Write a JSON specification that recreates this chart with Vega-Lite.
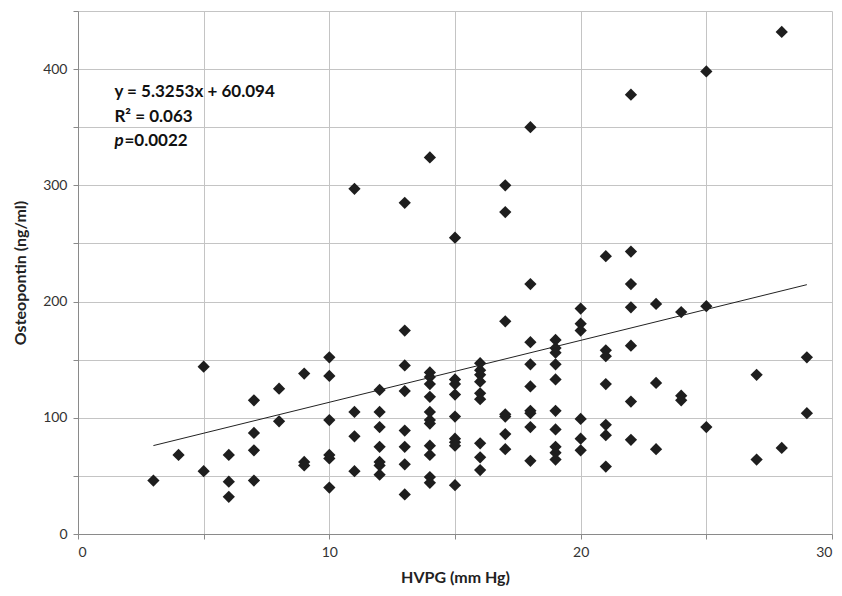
{
  "$schema": "https://vega.github.io/schema/vega-lite/v6.json",
  "autosize": {"type": "none"},
  "width": 754,
  "height": 523,
  "padding": {"left": 78, "top": 11, "right": 10, "bottom": 62},
  "background": "white",
  "config": {
    "view": {"stroke": null},
    "font": "Lato",
    "axis": {
      "gridColor": "#c4c4c4",
      "gridWidth": 1,
      "domainColor": "#8a8a8a",
      "tickColor": "#8a8a8a",
      "tickSize": 5,
      "labelFont": "Lato",
      "labelFontSize": 14,
      "labelColor": "#333333",
      "titleFont": "Lato",
      "titleFontSize": 16,
      "titleFontWeight": "bold",
      "titleColor": "#222222"
    }
  },
  "datasets": {
    "pts": [
      {"hvpg": 3, "opn": 46}, {"hvpg": 4, "opn": 68},
      {"hvpg": 5, "opn": 144}, {"hvpg": 5, "opn": 54},
      {"hvpg": 6, "opn": 68}, {"hvpg": 6, "opn": 45}, {"hvpg": 6, "opn": 32},
      {"hvpg": 7, "opn": 115}, {"hvpg": 7, "opn": 87}, {"hvpg": 7, "opn": 72}, {"hvpg": 7, "opn": 46},
      {"hvpg": 8, "opn": 125}, {"hvpg": 8, "opn": 97},
      {"hvpg": 9, "opn": 138}, {"hvpg": 9, "opn": 62}, {"hvpg": 9, "opn": 59},
      {"hvpg": 10, "opn": 152}, {"hvpg": 10, "opn": 136}, {"hvpg": 10, "opn": 98}, {"hvpg": 10, "opn": 68}, {"hvpg": 10, "opn": 65}, {"hvpg": 10, "opn": 40},
      {"hvpg": 11, "opn": 297}, {"hvpg": 11, "opn": 105}, {"hvpg": 11, "opn": 84}, {"hvpg": 11, "opn": 54},
      {"hvpg": 12, "opn": 124}, {"hvpg": 12, "opn": 105}, {"hvpg": 12, "opn": 92}, {"hvpg": 12, "opn": 75}, {"hvpg": 12, "opn": 62}, {"hvpg": 12, "opn": 59}, {"hvpg": 12, "opn": 51},
      {"hvpg": 13, "opn": 285}, {"hvpg": 13, "opn": 175}, {"hvpg": 13, "opn": 145}, {"hvpg": 13, "opn": 123}, {"hvpg": 13, "opn": 89}, {"hvpg": 13, "opn": 75}, {"hvpg": 13, "opn": 60}, {"hvpg": 13, "opn": 34},
      {"hvpg": 14, "opn": 324}, {"hvpg": 14, "opn": 139}, {"hvpg": 14, "opn": 135}, {"hvpg": 14, "opn": 129}, {"hvpg": 14, "opn": 118}, {"hvpg": 14, "opn": 105}, {"hvpg": 14, "opn": 98}, {"hvpg": 14, "opn": 95}, {"hvpg": 14, "opn": 76}, {"hvpg": 14, "opn": 68}, {"hvpg": 14, "opn": 49}, {"hvpg": 14, "opn": 44},
      {"hvpg": 15, "opn": 255}, {"hvpg": 15, "opn": 133}, {"hvpg": 15, "opn": 129}, {"hvpg": 15, "opn": 120}, {"hvpg": 15, "opn": 101}, {"hvpg": 15, "opn": 82}, {"hvpg": 15, "opn": 79}, {"hvpg": 15, "opn": 76}, {"hvpg": 15, "opn": 42},
      {"hvpg": 16, "opn": 147}, {"hvpg": 16, "opn": 141}, {"hvpg": 16, "opn": 137}, {"hvpg": 16, "opn": 131}, {"hvpg": 16, "opn": 121}, {"hvpg": 16, "opn": 116}, {"hvpg": 16, "opn": 78}, {"hvpg": 16, "opn": 66}, {"hvpg": 16, "opn": 55},
      {"hvpg": 17, "opn": 300}, {"hvpg": 17, "opn": 277}, {"hvpg": 17, "opn": 183}, {"hvpg": 17, "opn": 103}, {"hvpg": 17, "opn": 101}, {"hvpg": 17, "opn": 86}, {"hvpg": 17, "opn": 73},
      {"hvpg": 18, "opn": 350}, {"hvpg": 18, "opn": 215}, {"hvpg": 18, "opn": 165}, {"hvpg": 18, "opn": 146}, {"hvpg": 18, "opn": 127}, {"hvpg": 18, "opn": 106}, {"hvpg": 18, "opn": 104}, {"hvpg": 18, "opn": 92}, {"hvpg": 18, "opn": 63},
      {"hvpg": 19, "opn": 167}, {"hvpg": 19, "opn": 160}, {"hvpg": 19, "opn": 156}, {"hvpg": 19, "opn": 146}, {"hvpg": 19, "opn": 133}, {"hvpg": 19, "opn": 106}, {"hvpg": 19, "opn": 90}, {"hvpg": 19, "opn": 75}, {"hvpg": 19, "opn": 70}, {"hvpg": 19, "opn": 64},
      {"hvpg": 20, "opn": 194}, {"hvpg": 20, "opn": 181}, {"hvpg": 20, "opn": 175}, {"hvpg": 20, "opn": 99}, {"hvpg": 20, "opn": 82}, {"hvpg": 20, "opn": 72},
      {"hvpg": 21, "opn": 239}, {"hvpg": 21, "opn": 158}, {"hvpg": 21, "opn": 153}, {"hvpg": 21, "opn": 129}, {"hvpg": 21, "opn": 94}, {"hvpg": 21, "opn": 85}, {"hvpg": 21, "opn": 58},
      {"hvpg": 22, "opn": 378}, {"hvpg": 22, "opn": 243}, {"hvpg": 22, "opn": 215}, {"hvpg": 22, "opn": 195}, {"hvpg": 22, "opn": 162}, {"hvpg": 22, "opn": 114}, {"hvpg": 22, "opn": 81},
      {"hvpg": 23, "opn": 198}, {"hvpg": 23, "opn": 130}, {"hvpg": 23, "opn": 73},
      {"hvpg": 24, "opn": 191}, {"hvpg": 24, "opn": 119}, {"hvpg": 24, "opn": 115},
      {"hvpg": 25, "opn": 398}, {"hvpg": 25, "opn": 196}, {"hvpg": 25, "opn": 92},
      {"hvpg": 27, "opn": 137}, {"hvpg": 27, "opn": 64},
      {"hvpg": 28, "opn": 432}, {"hvpg": 28, "opn": 74},
      {"hvpg": 29, "opn": 152}, {"hvpg": 29, "opn": 104}
    ],
    "fit": [
      {"hvpg": 3, "opn": 76.07},
      {"hvpg": 29, "opn": 214.53}
    ],
    "notes": [
      {"hvpg": 1.45, "opn": 380, "txt": "y = 5.3253x + 60.094"},
      {"hvpg": 1.45, "opn": 359, "txt": "R² = 0.063"}
    ],
    "pnote": [
      {"hvpg": 1.45, "opn": 338, "p": "p", "rest": "=0.0022"}
    ]
  },
  "layer": [
    {
      "data": {"name": "pts"},
      "mark": {"type": "point", "shape": "diamond", "filled": true, "size": 150, "color": "#1e1e1e", "opacity": 1},
      "encoding": {
        "x": {
          "field": "hvpg", "type": "quantitative",
          "scale": {"domain": [0, 30], "nice": false, "zero": false},
          "axis": {
            "title": "HVPG (mm Hg)",
            "values": [0, 5, 10, 15, 20, 25, 30],
            "labelExpr": "datum.value % 10 === 0 ? datum.label : ''",
            "titlePadding": 10,
            "labelPadding": 6
          }
        },
        "y": {
          "field": "opn", "type": "quantitative",
          "scale": {"domain": [0, 450], "nice": false},
          "axis": {
            "title": "Osteopontin (ng/ml)",
            "values": [0, 50, 100, 150, 200, 250, 300, 350, 400, 450],
            "labelExpr": "datum.value % 100 === 0 && datum.value < 450 ? datum.label : ''",
            "titlePadding": 14,
            "labelPadding": 6
          }
        }
      }
    },
    {
      "data": {"name": "fit"},
      "mark": {"type": "line", "color": "#222222", "strokeWidth": 1},
      "encoding": {
        "x": {"field": "hvpg", "type": "quantitative"},
        "y": {"field": "opn", "type": "quantitative"}
      }
    },
    {
      "data": {"name": "notes"},
      "mark": {"type": "text", "align": "left", "baseline": "middle", "fontSize": 17, "fontWeight": "bold", "color": "#111111", "font": "Lato"},
      "encoding": {
        "x": {"field": "hvpg", "type": "quantitative"},
        "y": {"field": "opn", "type": "quantitative"},
        "text": {"field": "txt"}
      }
    },
    {
      "data": {"name": "pnote"},
      "mark": {"type": "text", "align": "left", "baseline": "middle", "fontSize": 17, "fontWeight": "bold", "fontStyle": "italic", "color": "#111111", "font": "Lato"},
      "encoding": {
        "x": {"field": "hvpg", "type": "quantitative"},
        "y": {"field": "opn", "type": "quantitative"},
        "text": {"field": "p"}
      }
    },
    {
      "data": {"name": "pnote"},
      "mark": {"type": "text", "align": "left", "baseline": "middle", "fontSize": 17, "fontWeight": "bold", "color": "#111111", "font": "Lato", "dx": 10},
      "encoding": {
        "x": {"field": "hvpg", "type": "quantitative"},
        "y": {"field": "opn", "type": "quantitative"},
        "text": {"field": "rest"}
      }
    }
  ]
}
